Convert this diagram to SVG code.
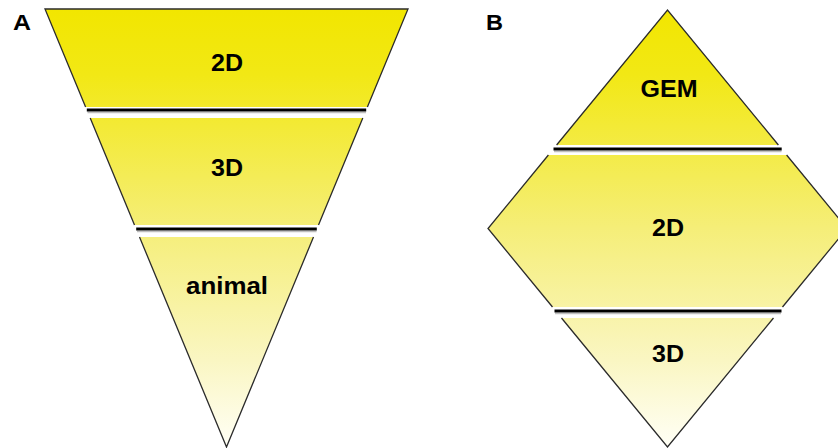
<svg xmlns="http://www.w3.org/2000/svg" width="838" height="448" viewBox="0 0 838 448">
  <defs>
    <linearGradient id="yel" gradientUnits="userSpaceOnUse" x1="0" y1="9" x2="0" y2="447">
      <stop offset="0" stop-color="#F2E600"/>
      <stop offset="0.15" stop-color="#F2E815"/>
      <stop offset="0.5" stop-color="#F5EE78"/>
      <stop offset="0.8" stop-color="#FAF6C2"/>
      <stop offset="1" stop-color="#FFFFF6"/>
    </linearGradient>
  </defs>
  <style>
    .seg { fill: url(#yel); stroke: none; }
    .edge { fill: none; stroke: #2b2b2b; stroke-width: 1.3; stroke-linejoin: miter; }
    .lbl { font-family: "Liberation Sans", Arial, sans-serif; font-weight: bold; font-size: 24px; fill: #000; text-anchor: middle; }
    .panel { font-family: "Liberation Sans", Arial, sans-serif; font-weight: bold; font-size: 22px; fill: #000; }
    .sep { stroke: #000; stroke-width: 3; }
    .shadow { stroke: #000; stroke-opacity: 0.25; stroke-width: 1.5; }
  </style>
  <rect width="838" height="448" fill="#fff"/>
  <text class="panel" x="13" y="30" textLength="18" lengthAdjust="spacingAndGlyphs">A</text>
  <text class="panel" x="486" y="30" textLength="17" lengthAdjust="spacingAndGlyphs">B</text>

  <g id="A-2D">
    <polygon class="seg" points="45,9 408,9 367.4,107 85.6,107"/>
    <path class="edge" d="M85.6,107 L45,9 L408,9 L367.4,107"/>
    <text class="lbl" x="227" y="71" textLength="32" lengthAdjust="spacingAndGlyphs">2D</text>
  </g>
  <g id="A-3D">
    <polygon class="seg" points="90.2,118 362.8,118 318.5,225 134.5,225"/>
    <path class="edge" d="M90.2,118 L134.5,225 M362.8,118 L318.5,225"/>
    <text class="lbl" x="227" y="176" textLength="32" lengthAdjust="spacingAndGlyphs">3D</text>
  </g>
  <g id="A-animal">
    <polygon class="seg" points="139.5,237 313.5,237 226.5,447"/>
    <path class="edge" d="M139.5,237 L226.5,447 L313.5,237"/>
    <text class="lbl" x="227" y="294" textLength="82" lengthAdjust="spacingAndGlyphs">animal</text>
  </g>

  <g id="B-GEM">
    <polygon class="seg" points="667.5,10 778.4,145 556.6,145"/>
    <path class="edge" d="M556.6,145 L667.5,10 L778.4,145"/>
    <text class="lbl" x="669" y="97" textLength="57" lengthAdjust="spacingAndGlyphs">GEM</text>
  </g>
  <g id="B-2D">
    <polygon class="seg" points="548.4,155 786.6,155 847,228.5 782.5,307 552.5,307 488,228.5"/>
    <path class="edge" d="M548.4,155 L488,228.5 L552.5,307 M786.6,155 L847,228.5 L782.5,307"/>
    <text class="lbl" x="668" y="236" textLength="32" lengthAdjust="spacingAndGlyphs">2D</text>
  </g>
  <g id="B-3D">
    <polygon class="seg" points="561.5,318 773.5,318 667.5,447"/>
    <path class="edge" d="M561.5,318 L667.5,447 L773.5,318"/>
    <text class="lbl" x="668" y="362" textLength="32" lengthAdjust="spacingAndGlyphs">3D</text>
  </g>

  <g id="separators">
    <line class="shadow" x1="87.5" y1="112.5" x2="366" y2="112.5"/>
    <line class="sep" x1="86.8" y1="110" x2="366.2" y2="110"/>
    <line class="shadow" x1="137" y1="231.5" x2="316.5" y2="231.5"/>
    <line class="sep" x1="136.2" y1="229" x2="316.8" y2="229"/>
    <line class="shadow" x1="554" y1="151.5" x2="781.5" y2="151.5"/>
    <line class="sep" x1="553.5" y1="149" x2="781.7" y2="149"/>
    <line class="shadow" x1="555" y1="313.5" x2="781" y2="313.5"/>
    <line class="sep" x1="554.5" y1="311" x2="781.5" y2="311"/>
  </g>
</svg>
